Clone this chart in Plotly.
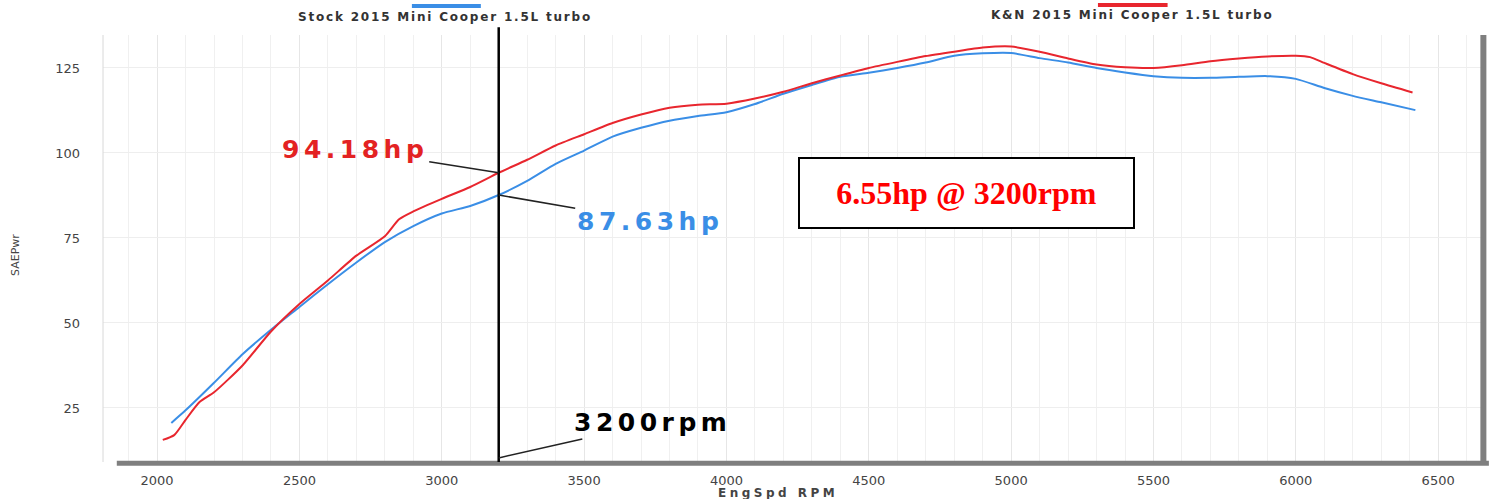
import plotly.graph_objects as go

# ---- data ----
stock_rpm = [2050, 2100, 2200, 2300, 2400, 2500, 2600, 2700, 2800, 2900, 3000, 3100, 3200,
             3300, 3400, 3500, 3600, 3700, 3800, 3900, 4000, 4100, 4200, 4300, 4400, 4500,
             4600, 4700, 4800, 4900, 5000, 5100, 5200, 5300, 5400, 5500, 5600, 5700, 5800,
             5900, 6000, 6100, 6200, 6300, 6420]
stock_hp = [20.6, 24.3, 32.4, 40.8, 48.0, 54.7, 61.4, 67.8, 73.8, 78.5, 82.2, 84.4, 87.63,
            91.8, 96.8, 100.7, 104.8, 107.4, 109.5, 110.9, 112.0, 114.4, 117.4, 120.0, 122.4, 123.6,
            125.0, 126.6, 128.6, 129.3, 129.4, 127.9, 126.6, 125.0, 123.7, 122.6, 122.1, 122.1, 122.4,
            122.6, 121.8, 119.1, 116.8, 114.9, 112.6]

kn_rpm = [2020, 2060, 2100, 2150, 2200, 2300, 2400, 2500, 2600, 2700, 2800, 2850, 2900, 3000,
          3100, 3200, 3300, 3400, 3500, 3600, 3700, 3800, 3900, 4000, 4100, 4200, 4300, 4400,
          4500, 4600, 4700, 4800, 4900, 5000, 5100, 5200, 5300, 5400, 5500, 5600, 5700, 5800,
          5900, 6000, 6050, 6100, 6200, 6300, 6410]
kn_hp = [15.6, 17.0, 21.5, 26.8, 29.6, 37.5, 47.5, 55.6, 62.5, 69.8, 75.5, 80.5, 82.8, 86.5,
         90.0, 94.18, 98.0, 102.2, 105.5, 108.8, 111.3, 113.3, 114.2, 114.5, 116.0, 118.0, 120.5, 122.8,
         125.0, 126.8, 128.5, 129.8, 131.0, 131.3, 129.8, 127.8, 126.0, 125.2, 125.0, 125.8, 127.0, 127.8,
         128.4, 128.6, 128.2, 126.5, 123.2, 120.5, 117.8]

x_ticks = [2000, 2500, 3000, 3500, 4000, 4500, 5000, 5500, 6000, 6500]
y_ticks = [25, 50, 75, 100, 125]

stock_name = "Stock 2015 Mini Cooper 1.5L turbo"
kn_name = "K&N 2015 Mini Cooper 1.5L turbo"
marker_rpm = 3200
kn_at_marker = 94.18
stock_at_marker = 87.63
gain_text = "6.55hp @ 3200rpm"

BLUE = "#3a8ee6"
RED = "#e8262e"

fig = go.Figure()
fig.add_trace(go.Scatter(x=stock_rpm, y=stock_hp, mode="lines", name=stock_name,
                         line=dict(color=BLUE, width=2, shape="spline", smoothing=0.6)))
fig.add_trace(go.Scatter(x=kn_rpm, y=kn_hp, mode="lines", name=kn_name,
                         line=dict(color=RED, width=2, shape="spline", smoothing=0.6)))

label_font = "DejaVu Sans"


def spaced(text, px):
    return f'<span style="letter-spacing:{px}px">{text}</span>'


fig.update_layout(
    width=1497, height=499,
    margin=dict(l=103, r=15, t=35, b=37),
    paper_bgcolor="white", plot_bgcolor="white",
    showlegend=False,
    font=dict(family=label_font, color="#444"),
    xaxis=dict(range=[1810, 6654], tickvals=x_ticks, ticktext=[str(v) for v in x_ticks],
               showgrid=True, gridcolor="#e6e6e6", gridwidth=1,
               minor=dict(dtick=100, showgrid=True, gridcolor="#f0f0f0", gridwidth=1),
               zeroline=False, showline=False, ticks="",
               tickfont=dict(size=13, color="#444"), ticklabelstandoff=9),
    yaxis=dict(range=[9.1, 134.7], tickvals=y_ticks, ticktext=[str(v) for v in y_ticks],
               showgrid=True, gridcolor="#eeeeee", gridwidth=1,
               zeroline=False, showline=False, ticks="",
               tickfont=dict(size=13, color="#444"), ticklabelstandoff=22),
)

shapes = [
    # left thin frame line
    dict(type="line", xref="paper", yref="paper", x0=0, x1=0, y0=0, y1=1,
         line=dict(color="#d8d8d8", width=1)),
    # thick bottom axis bar
    dict(type="line", xref="paper", yref="paper", x0=0.01, x1=1.005, y0=-0.003, y1=-0.003,
         line=dict(color="#7f7f7f", width=5)),
    # thick right bar
    dict(type="line", xref="paper", yref="paper", x0=1.001, x1=1.001, y0=-0.003, y1=1.0,
         line=dict(color="#7f7f7f", width=6)),
    # vertical marker line at 3200 rpm
    dict(type="line", xref="x", yref="paper", x0=marker_rpm, x1=marker_rpm, y0=0, y1=1.018,
         line=dict(color="black", width=2.5)),
    # legend swatches
    dict(type="line", xref="paper", yref="paper", x0=0.224, x1=0.274, y0=1.068, y1=1.068,
         line=dict(color=BLUE, width=4)),
    dict(type="line", xref="paper", yref="paper", x0=0.7215, x1=0.772, y0=1.070, y1=1.070,
         line=dict(color=RED, width=4)),
]
fig.update_layout(shapes=shapes)

big = dict(size=25, family=label_font)
annotations = [
    dict(text="<b>" + spaced(stock_name, 1.8) + "</b>", xref="paper", yref="paper",
         x=(445 - 103) / 1379, y=(462 - 17) / 427, xanchor="center", yanchor="middle",
         showarrow=False, font=dict(size=12, color="#333", family=label_font)),
    dict(text="<b>" + spaced(kn_name, 1.8) + "</b>", xref="paper", yref="paper",
         x=(1132 - 103) / 1379, y=(462 - 15) / 427, xanchor="center", yanchor="middle",
         showarrow=False, font=dict(size=12, color="#333", family=label_font)),
    dict(text="SAEPwr", xref="paper", yref="paper", x=(15 - 103) / 1379, y=(462 - 255) / 427,
         xanchor="center", yanchor="middle", textangle=-90,
         showarrow=False, font=dict(size=11, color="#444")),
    dict(text="<b>" + spaced("EngSpd RPM", 3.5) + "</b>", xref="paper", yref="paper",
         x=(778 - 103) / 1379, y=(462 - 493) / 427, xanchor="center", yanchor="middle",
         showarrow=False, font=dict(size=12, color="#444")),
    dict(text="<b>" + spaced("94.18hp", 4.5) + "</b>", x=marker_rpm, y=kn_at_marker, ax=-144, ay=-23,
         showarrow=True, arrowhead=0, arrowwidth=1.5, arrowcolor="#222",
         font=dict(color="#e32222", **big)),
    dict(text="<b>" + spaced("87.63hp", 4.5) + "</b>", x=marker_rpm, y=stock_at_marker, ax=151, ay=26,
         showarrow=True, arrowhead=0, arrowwidth=1.5, arrowcolor="#222",
         font=dict(color=BLUE, **big)),
    dict(text="<b>" + spaced("3200rpm", 4.5) + "</b>", x=marker_rpm, y=10.3, ax=154, ay=-35,
         showarrow=True, arrowhead=0, arrowwidth=1.5, arrowcolor="#222",
         font=dict(color="black", **big)),
    dict(text="<b>" + gain_text + "</b>", xref="paper", yref="paper",
         x=(966 - 103) / 1379, y=(462 - 193) / 427, xanchor="center", yanchor="middle",
         showarrow=False,
         font=dict(size=32, color="#ff0000", family="Liberation Serif"),
         bordercolor="black", borderwidth=2, bgcolor="white",
         borderpad=0, width=333, height=68),
]
fig.update_layout(annotations=annotations)

fig.write_html("out.html", config={"displayModeBar": False},
               post_script="document.body.style.margin='0';")
